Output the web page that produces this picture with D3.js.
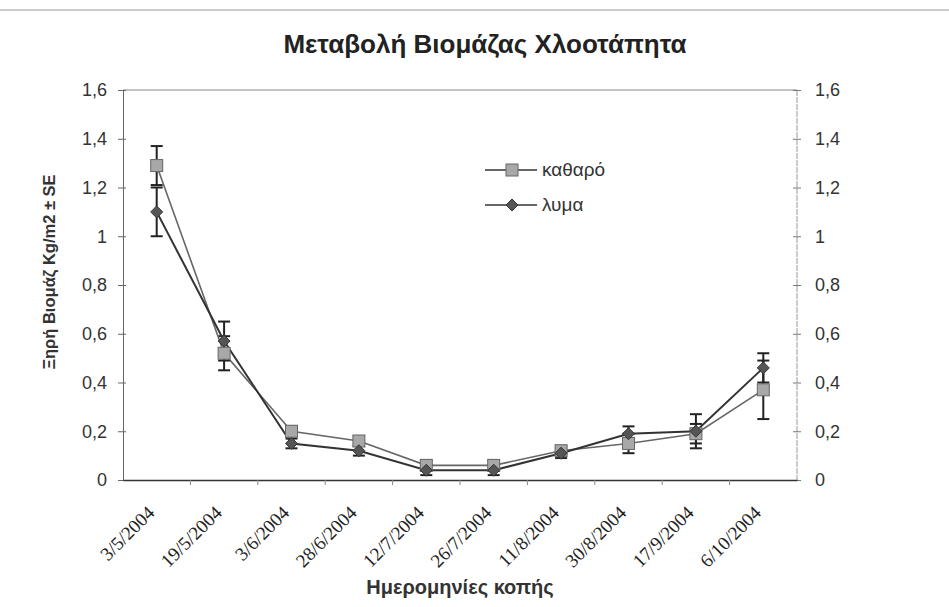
<!DOCTYPE html>
<html><head><meta charset="utf-8">
<script src="https://cdn.jsdelivr.net/npm/d3@7/dist/d3.min.js"></script>
<style>body{margin:0;background:#fff}</style>
</head><body>
<svg id="c" width="949" height="607"></svg>
<script>
const dates = ["3/5/2004","19/5/2004","3/6/2004","28/6/2004","12/7/2004","26/7/2004","11/8/2004","30/8/2004","17/9/2004","6/10/2004"];
const katharo = [1.29,0.52,0.20,0.16,0.06,0.06,0.12,0.15,0.19,0.37];
const katharoSE = [0.08,0.07,0.02,0.02,0.02,0.02,0.02,0.04,0.04,0.12];
const lyma = [1.10,0.57,0.15,0.12,0.04,0.04,0.11,0.19,0.20,0.46];
const lymaSE = [0.10,0.08,0.02,0.02,0.02,0.02,0.02,0.03,0.07,0.06];
const yTicks = [0,0.2,0.4,0.6,0.8,1,1.2,1.4,1.6];
const seriesNames = ["καθαρό","λυμα"];

const svg = d3.select("#c");
const L=123,R=797,T=90,B=480;
const SANS="Liberation Sans, Arial, sans-serif";
const x = d3.scaleBand().domain(dates).range([L,R]);
const y = d3.scaleLinear().domain([0,1.6]).range([B,T]);
const fmt = v => String(v).replace(".",",");

// outer frame line
svg.append("line").attr("x1",0).attr("x2",949).attr("y1",10).attr("y2",10).attr("stroke","#999").attr("stroke-width",1);

// title
svg.append("text").attr("x",485).attr("y",53).attr("text-anchor","middle")
  .attr("font-family",SANS).attr("font-weight","bold").attr("font-size",26).attr("fill","#222")
  .text("Μεταβολή Βιομάζας Χλοοτάπητα");

// plot frame
svg.append("line").attr("x1",L).attr("x2",R).attr("y1",T).attr("y2",T).attr("stroke","#888");
svg.append("line").attr("x1",R).attr("x2",R).attr("y1",T).attr("y2",B).attr("stroke","#999").attr("stroke-dasharray","6,1");

// left axis
const ya = d3.axisLeft(y).tickValues(yTicks).tickFormat(fmt).tickSizeInner(5).tickSizeOuter(0).tickPadding(11);
const gl = svg.append("g").attr("transform",`translate(${L},0)`).call(ya);
gl.select(".domain").attr("stroke","#666");
gl.selectAll(".tick line").attr("stroke","#666").attr("x2",-5).attr("x1",3);
gl.selectAll("text").attr("font-family",SANS).attr("font-size",18).attr("fill","#333");

// right axis
const yr = d3.axisRight(y).tickValues(yTicks).tickFormat(fmt).tickSizeInner(4).tickSizeOuter(0).tickPadding(14);
const gr = svg.append("g").attr("transform",`translate(${R},0)`).call(yr);
gr.select(".domain").attr("stroke","none");
gr.selectAll(".tick line").attr("stroke","#777").attr("x1",-4);
gr.selectAll("text").attr("font-family",SANS).attr("font-size",18).attr("fill","#333");

// x axis
const xa = d3.axisBottom(x).tickSize(0).tickFormat("");
const gx = svg.append("g").attr("transform",`translate(0,${B})`).call(xa);
gx.select(".domain").attr("stroke","#333").attr("stroke-width",1.5);
svg.append("g").selectAll("line").data(dates.slice(1)).join("line")
  .attr("x1",d=>x(d)).attr("x2",d=>x(d)).attr("y1",B).attr("y2",B+5).attr("stroke","#888");
svg.append("g").selectAll("text").data(dates).join("text")
  .attr("transform",d=>`translate(${x(d)+x.bandwidth()/2-1},${B+34}) rotate(-45)`)
  .attr("text-anchor","end").attr("font-family","Liberation Serif, Times New Roman, serif")
  .attr("font-size",19).attr("fill","#222").text(d=>d);

// axis titles
svg.append("text").attr("x",460).attr("y",594).attr("text-anchor","middle")
  .attr("font-family",SANS).attr("font-weight","bold").attr("font-size",20).attr("fill","#333")
  .text("Ημερομηνίες κοπής");
svg.append("text").attr("transform","translate(55,272) rotate(-90)").attr("text-anchor","middle")
  .attr("font-family",SANS).attr("font-weight","bold").attr("font-size",16.5).attr("fill","#333")
  .text("Ξηρή Βιομάζ  Kg/m2 ± SE");

const cx = d => x(d)+x.bandwidth()/2;
const series = [
  {name:seriesNames[0], v:katharo, se:katharoSE, line:"#666", lw:1.6, fill:"#a8a8a8", stroke:"#666", shape:"sq"},
  {name:seriesNames[1], v:lyma, se:lymaSE, line:"#333", lw:2, fill:"#555", stroke:"#333", shape:"dia"}
];

series.forEach(s=>{
  const data = dates.map((d,i)=>({d, v:s.v[i], e:s.se[i]}));
  const eg = svg.append("g").attr("stroke","#222").attr("stroke-width",2);
  data.forEach(p=>{
    const X=cx(p.d);
    eg.append("line").attr("x1",X).attr("x2",X).attr("y1",y(p.v-p.e)).attr("y2",y(p.v+p.e));
    eg.append("line").attr("x1",X-6).attr("x2",X+6).attr("y1",y(p.v-p.e)).attr("y2",y(p.v-p.e));
    eg.append("line").attr("x1",X-6).attr("x2",X+6).attr("y1",y(p.v+p.e)).attr("y2",y(p.v+p.e));
  });
  svg.append("path").datum(data).attr("fill","none").attr("stroke",s.line).attr("stroke-width",s.lw)
    .attr("d",d3.line().x(p=>cx(p.d)).y(p=>y(p.v)));
  s.data=data;
});
function marker(g,s,X,Y){
  if(s.shape==="sq") g.append("rect").attr("x",X-6).attr("y",Y-6).attr("width",12).attr("height",12)
    .attr("fill",s.fill).attr("stroke",s.stroke).attr("stroke-width",1);
  else g.append("path").attr("d",`M${X},${Y-6}L${X+6},${Y}L${X},${Y+6}L${X-6},${Y}Z`)
    .attr("fill",s.fill).attr("stroke",s.stroke).attr("stroke-width",1);
}
series.forEach(s=>{
  const g=svg.append("g");
  s.data.forEach(p=>marker(g,s,cx(p.d),y(p.v)));
});

// legend
series.forEach((s,i)=>{
  const Y=170+i*35;
  svg.append("line").attr("x1",485).attr("x2",537).attr("y1",Y).attr("y2",Y).attr("stroke","#333").attr("stroke-width",1.5);
  marker(svg,s,512,Y);
  svg.append("text").attr("x",542).attr("y",Y+6).attr("font-family",SANS)
    .attr("font-size",19).attr("fill","#333").text(s.name);
});
</script>
</body></html>
